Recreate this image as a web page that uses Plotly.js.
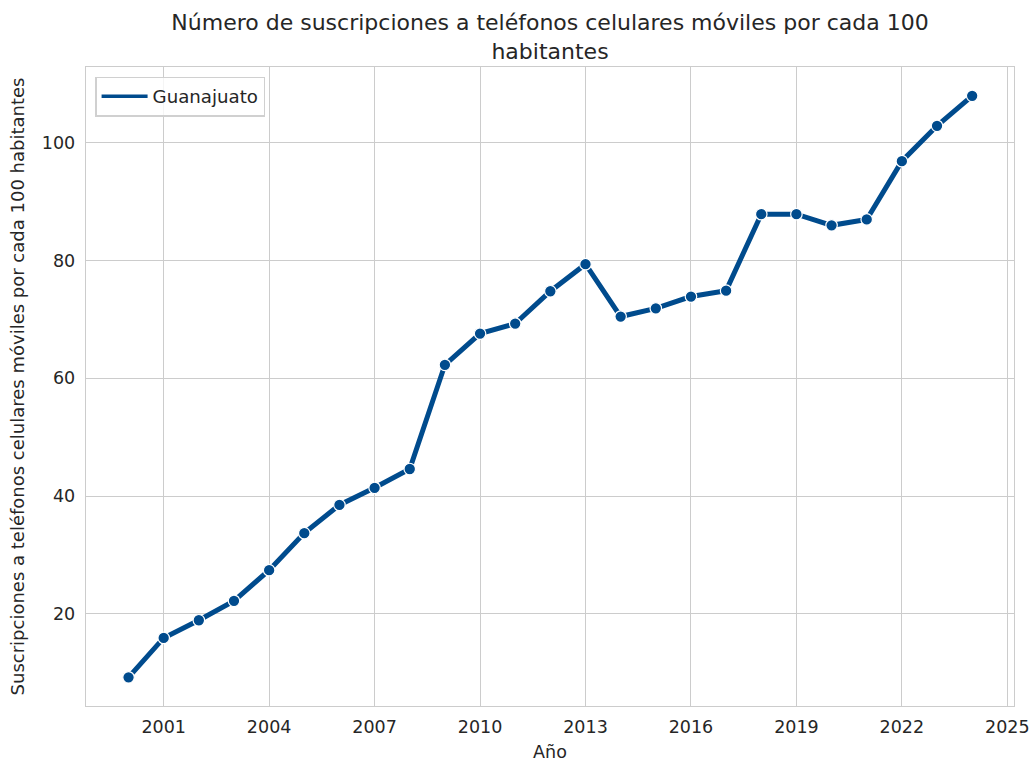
<!DOCTYPE html>
<html>
<head>
<meta charset="utf-8">
<script src="https://cdn.plot.ly/plotly-3.0.1.min.js"></script>
<style>html,body{margin:0;padding:0;background:#fff;}#chart{width:1030px;height:762px;}</style>
</head>
<body>
<div id="chart"></div>
<script>
const years = [2000,2001,2002,2003,2004,2005,2006,2007,2008,2009,2010,2011,2012,2013,2014,2015,2016,2017,2018,2019,2020,2021,2022,2023,2024];
const values = [9.2,15.9,18.9,22.2,27.4,33.7,38.5,41.4,44.6,62.3,67.6,69.3,74.8,79.4,70.5,71.9,73.9,74.9,87.9,87.9,86.0,87.0,96.9,102.9,108.0];
const seriesName = "Guanajuato";
const xTicks = [2001,2004,2007,2010,2013,2016,2019,2022,2025];
const yTicks = [20,40,60,80,100];

const color = "#004b8d";
const font = "DejaVu Sans, sans-serif";
const textColor = "#262626";

const traces = [
  {
    x: years, y: values, type: "scatter", mode: "lines+markers",
    line: {color: color, width: 5},
    marker: {color: color, size: 11.5, line: {color: "#ffffff", width: 1.2}},
    name: seriesName, showlegend: false
  },
  {
    x: [null], y: [null], type: "scatter", mode: "lines",
    line: {color: color, width: 3.5},
    name: seriesName, showlegend: true
  }
];

const layout = {
  width: 1030, height: 762,
  margin: {l: 86, r: 16, t: 67, b: 56},
  paper_bgcolor: "#ffffff", plot_bgcolor: "#ffffff",
  font: {family: font, color: textColor, size: 17.5},
  title: {
    text: "Número de suscripciones a teléfonos celulares móviles por cada 100<br>habitantes",
    font: {family: font, size: 22, color: textColor},
    x: 0.534, xanchor: "center", y: 0.96, yanchor: "top"
  },
  xaxis: {
    range: [1998.79, 2025.19],
    tickvals: xTicks, ticktext: xTicks.map(String),
    showgrid: true, gridcolor: "#cccccc", gridwidth: 1,
    showline: true, linecolor: "#cccccc", linewidth: 1.3, mirror: true,
    zeroline: false, ticks: "", ticklen: 0, ticklabelstandoff: 5,
    tickfont: {size: 17.5, color: textColor},
    title: {text: "Año", font: {size: 17.5, color: textColor}, standoff: 11}
  },
  yaxis: {
    range: [4.33, 112.9],
    tickvals: yTicks, ticktext: yTicks.map(String),
    showgrid: true, gridcolor: "#cccccc", gridwidth: 1,
    showline: true, linecolor: "#cccccc", linewidth: 1.3, mirror: true,
    zeroline: false, ticks: "", ticklabelstandoff: 6,
    tickfont: {size: 17.5, color: textColor},
    title: {text: "Suscripciones a teléfonos celulares móviles por cada 100 habitantes", font: {size: 18, color: textColor}, standoff: 12}
  },
  legend: {
    x: 0.01, y: 0.985, xanchor: "left", yanchor: "top",
    bgcolor: "rgba(255,255,255,0.8)", bordercolor: "#d0d0d0", borderwidth: 1.3,
    font: {size: 18.2, color: textColor}, itemwidth: 46
  },
  showlegend: true
};

Plotly.newPlot("chart", traces, layout, {displayModeBar: false, staticPlot: true});
</script>
</body>
</html>
